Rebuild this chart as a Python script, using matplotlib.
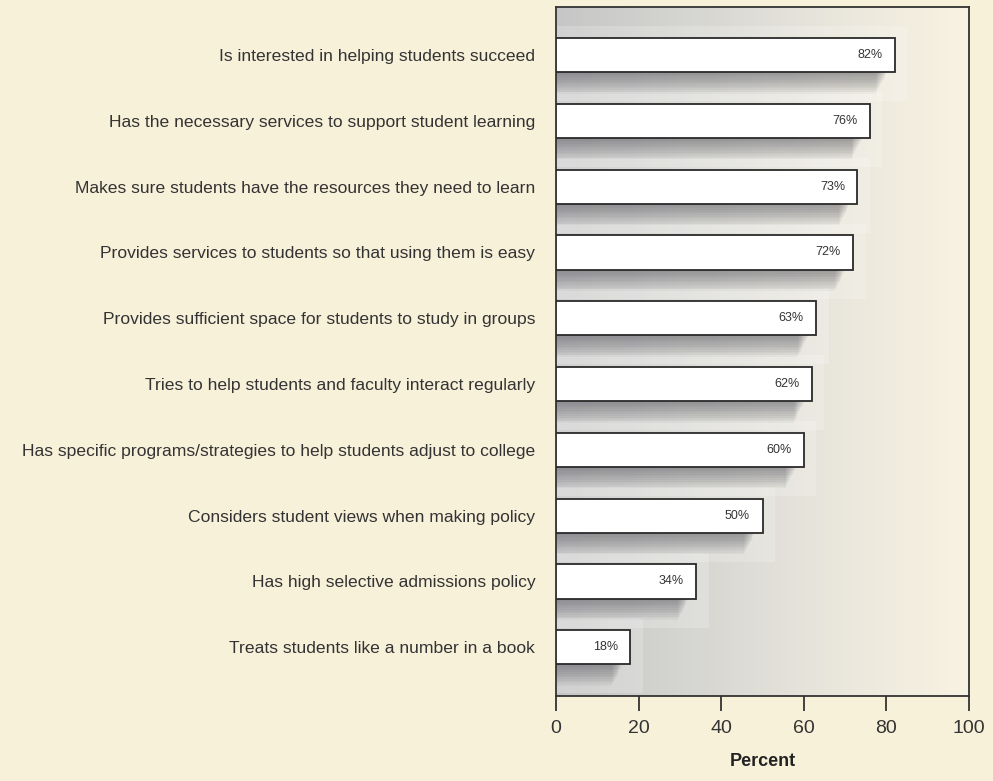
import numpy as np
import matplotlib
matplotlib.use('Agg')
import matplotlib.pyplot as plt
from matplotlib.colors import LinearSegmentedColormap

# data (top to bottom)
labels = ['Is interested in helping students succeed',
          'Has the necessary services to support student learning',
          'Makes sure students have the resources they need to learn',
          'Provides services to students so that using them is easy',
          'Provides sufficient space for students to study in groups',
          'Tries to help students and faculty interact regularly',
          'Has specific programs/strategies to help students adjust to college',
          'Considers student views when making policy',
          'Has high selective admissions policy',
          'Treats students like a number in a book']
values = [82, 76, 73, 72, 63, 62, 60, 50, 34, 18]
xticks = [0, 20, 40, 60, 80, 100]

cream = '#f8f1da'
plt.rcParams['font.family'] = ['Liberation Sans', 'DejaVu Sans']

fig = plt.figure(figsize=(9.93, 7.81), dpi=100, facecolor=cream)
ax = fig.add_axes([556/993, 1 - 696/781, 413/993, 689/781])
ax.set_facecolor(cream)

n = len(values)
ypos = np.arange(n)
ax.set_xlim(0, 100)
ax.set_ylim(n - 1 + 0.74, -0.73)

# horizontal gradient background: gray on the left to cream on the right
grad = LinearSegmentedColormap.from_list('g', ['#c6c6c6', '#d6d6d2', '#e9e6dc', '#f8f3e2'])
ax.imshow(np.linspace(0, 1, 256).reshape(1, -1), cmap=grad, aspect='auto',
          extent=(0, 100, n - 1 + 0.74, -0.73), zorder=0)

h = 0.52
for y, v in zip(ypos, values):
    # lighter panel behind each bar
    ax.fill_between([0, v + 3], y - 0.44, y + 0.70, color='white', alpha=0.2,
                    lw=0, zorder=1)
    # soft shadow below bar, built from stacked translucent strips
    for k in range(12):
        ax.fill_between([0, v - 2 - k * 0.22], y,
                        y + h / 2 + 0.04 + k * 0.026, color='#3c3c46',
                        alpha=0.045, lw=0, zorder=2)
ax.barh(ypos, values, height=h, color='white', edgecolor='#2a2a2a',
        linewidth=1.3, zorder=3)
for y, v in zip(ypos, values):
    ax.text(v - 3, y, f'{v}%', ha='right', va='center', fontsize=9,
            color='#333333', zorder=4)

ax.set_yticks(ypos)
ax.set_yticklabels(labels, fontsize=12.6, color='#333333')
ax.tick_params(axis='y', length=0, pad=15)
ax.set_xticks(xticks)
ax.set_xticklabels([str(t) for t in xticks], fontsize=14, color='#333333')
ax.tick_params(axis='x', length=11, width=1.3, color='#333333', pad=6)
ax.set_xlabel('Percent', fontsize=13, fontweight='bold', color='#222222', labelpad=12)
for s in ax.spines.values():
    s.set_color('#333333')
    s.set_linewidth(1.3)

fig.savefig('out.png', dpi=100, facecolor=cream)
